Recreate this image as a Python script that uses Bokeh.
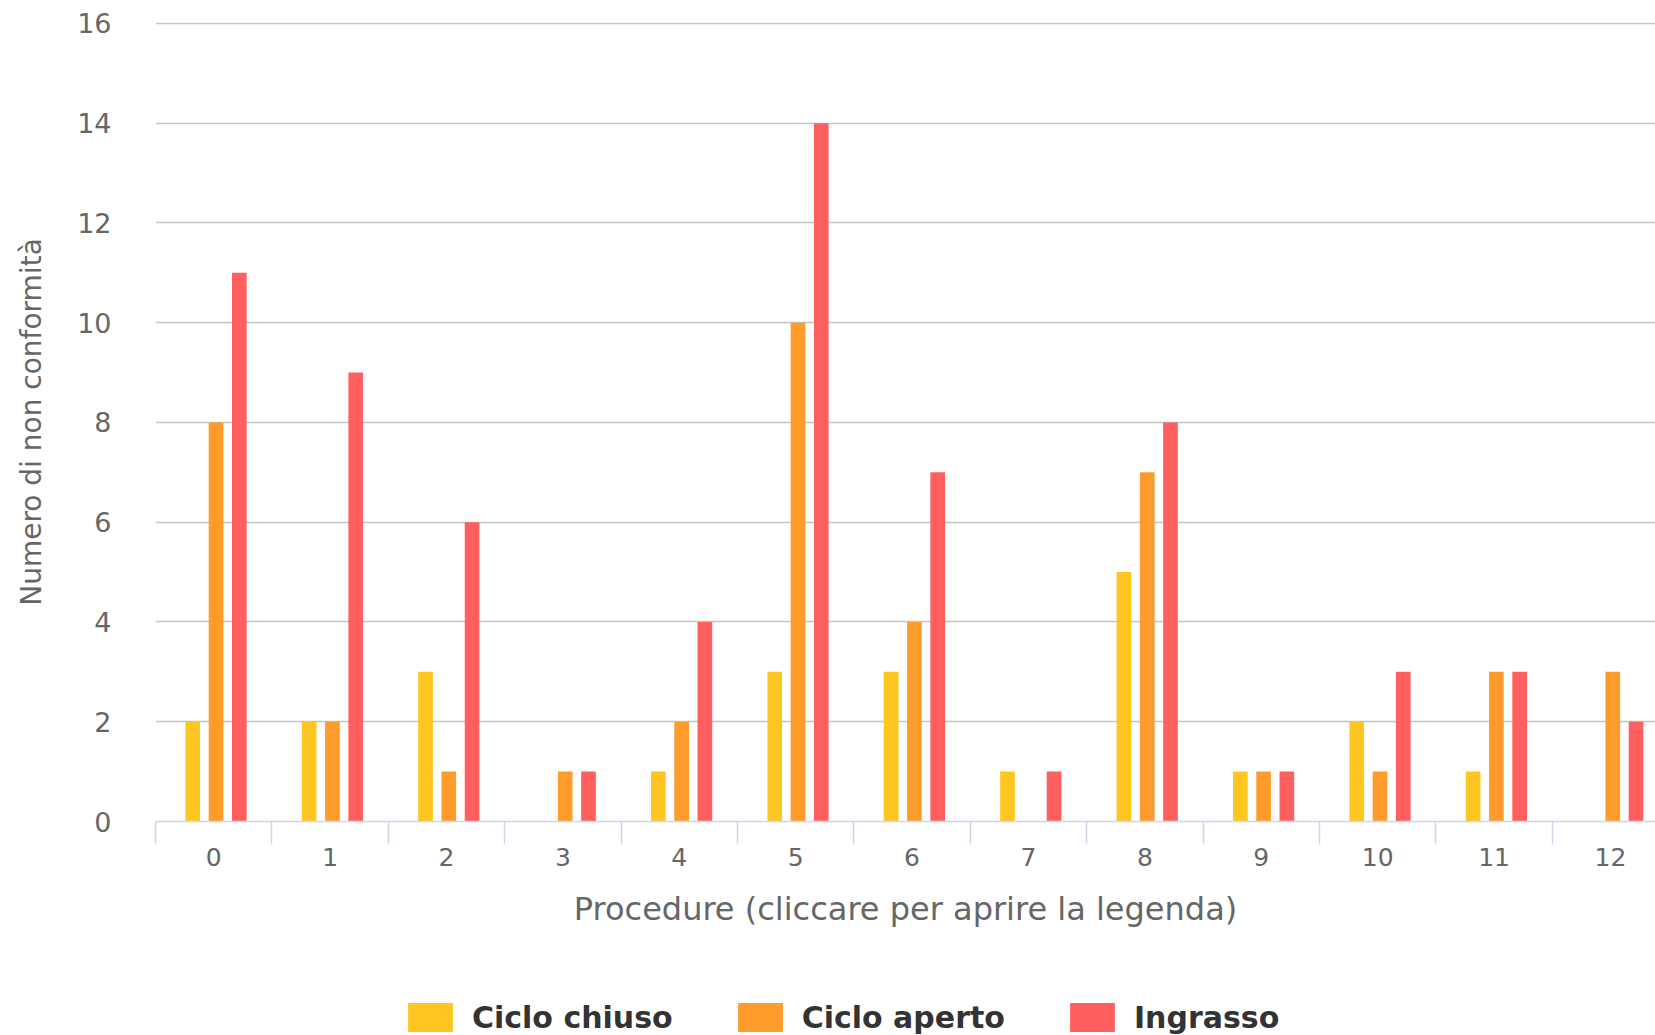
from bokeh.plotting import figure
from bokeh.layouts import column
from bokeh.models import Range1d, FixedTicker, Legend, LegendItem, ColumnDataSource
from bokeh.transform import dodge
from bokeh.embed import file_html
from bokeh.resources import INLINE

# ---- data ----
procedures = [0, 1, 2, 3, 4, 5, 6, 7, 8, 9, 10, 11, 12]
ciclo_chiuso = [2, 2, 3, 0, 1, 3, 3, 1, 5, 1, 2, 1, 0]
ciclo_aperto = [8, 2, 1, 1, 2, 10, 4, 0, 7, 1, 1, 3, 3]
ingrasso = [11, 9, 6, 1, 4, 14, 7, 1, 8, 1, 3, 3, 2]
series_names = ["Ciclo chiuso", "Ciclo aperto", "Ingrasso"]
series_colors = ["#ffc520", "#ff9b2b", "#ff5f5f"]
y_ticks = [0, 2, 4, 6, 8, 10, 12, 14, 16]
x_title = "Procedure (cliccare per aprire la legenda)"
y_title = "Numero di non conformità"

FONT = "DejaVu Sans"

source = ColumnDataSource(dict(x=procedures, chiuso=ciclo_chiuso,
                               aperto=ciclo_aperto, ingrasso=ingrasso))

p = figure(width=1655, height=955, output_backend="svg", toolbar_location=None,
           x_range=Range1d(-0.5, 12.387), y_range=Range1d(0, 16.02),
           min_border_left=155, min_border_right=0, min_border_top=22,
           min_border_bottom=134)
p.outline_line_color = None
p.background_fill_color = "white"
p.border_fill_color = "white"

cols = ["chiuso", "aperto", "ingrasso"]
offsets = [-0.18, 0.02, 0.22]
renderers = []
for col, off, color in zip(cols, offsets, series_colors):
    r = p.vbar(x=dodge("x", off), top=col, width=0.126, source=source,
               fill_color=color, line_color=None)
    renderers.append(r)

# grid
p.xgrid.visible = False
p.ygrid.grid_line_color = "#c4c4c4"
p.ygrid.grid_line_width = 1.5

# y axis
p.yaxis.ticker = FixedTicker(ticks=y_ticks)
p.yaxis.axis_line_color = None
p.yaxis.major_tick_line_color = None
p.yaxis.minor_tick_line_color = None
p.yaxis.major_tick_out = 0
p.yaxis.major_label_standoff = 44
p.yaxis.major_label_text_font = FONT
p.yaxis.major_label_text_font_size = "27px"
p.yaxis.major_label_text_color = "#666666"
p.yaxis.axis_label = y_title
p.yaxis.axis_label_text_font = FONT
p.yaxis.axis_label_text_font_size = "28px"
p.yaxis.axis_label_text_font_style = "normal"
p.yaxis.axis_label_text_color = "#666666"
p.yaxis.axis_label_standoff = 26

# x axis
p.xaxis.ticker = FixedTicker(ticks=procedures,
                             minor_ticks=[v - 0.5 for v in procedures] + [procedures[-1] + 0.5])
p.xaxis.axis_line_color = "#ccd6eb"
p.xaxis.axis_line_width = 1.5
p.xaxis.major_tick_line_color = None
p.xaxis.major_tick_out = 0
p.xaxis.major_tick_in = 0
p.xaxis.minor_tick_line_color = "#ccd6eb"
p.xaxis.minor_tick_line_width = 1.5
p.xaxis.minor_tick_in = 0
p.xaxis.minor_tick_out = 22
p.xaxis.major_label_standoff = 4
p.xaxis.major_label_text_font = FONT
p.xaxis.major_label_text_font_size = "25px"
p.xaxis.major_label_text_color = "#666666"
p.xaxis.axis_label = x_title
p.xaxis.axis_label_text_font = FONT
p.xaxis.axis_label_text_font_size = "32px"
p.xaxis.axis_label_text_font_style = "normal"
p.xaxis.axis_label_text_color = "#666666"
p.xaxis.axis_label_standoff = 21

# legend strip below the chart (frame is aligned with the chart's frame by the column)
p2 = figure(width=1655, height=80, output_backend="svg", toolbar_location=None,
            x_range=Range1d(0, 1), y_range=Range1d(0, 1),
            min_border_left=0, min_border_right=0, min_border_top=0, min_border_bottom=0)
p2.axis.visible = False
p2.grid.visible = False
p2.outline_line_color = None
p2.background_fill_color = "white"
p2.border_fill_color = "white"
legend_renderers = [p2.vbar(x=[10], top=[1], width=0.1, fill_color=c, line_color=None)
                    for c in series_colors]
legend = Legend(items=[LegendItem(label=n, renderers=[r]) for n, r in zip(series_names, legend_renderers)],
                location=(247, 0), orientation="horizontal",
                padding=0, margin=0, spacing=59, border_line_color=None,
                background_fill_alpha=0, glyph_width=56, glyph_height=36,
                label_standoff=14, label_text_font=FONT,
                label_text_font_size="30px", label_text_font_style="bold",
                label_text_color="#333333")
p2.add_layout(legend, "center")

open("out.html", "w").write(file_html(column(p, p2, spacing=0), INLINE))
